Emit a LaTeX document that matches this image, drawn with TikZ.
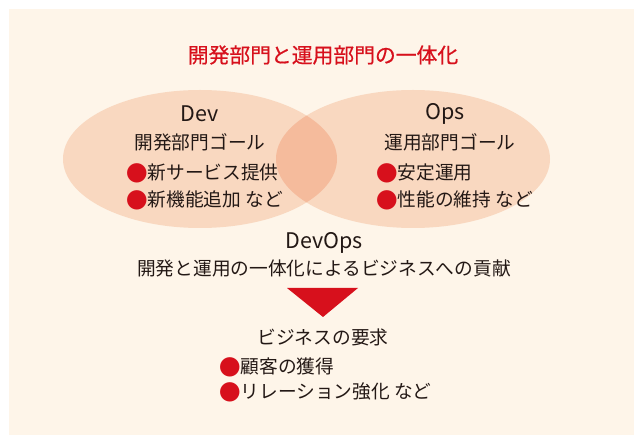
\documentclass[tikz,border=0pt]{standalone}
\usepackage{fontspec}
\setmainfont{Noto Sans CJK JP}
\newfontfamily\ttlfont{Noto Sans CJK JP}[FakeBold=0.6]
\definecolor{bgc}{HTML}{FEF5E9}
\definecolor{ellc}{HTML}{F9D8C0}
\definecolor{ovc}{HTML}{F5BB9C}
\definecolor{redc}{HTML}{D7101C}
\definecolor{txt}{HTML}{231815}
\tikzset{
  lbl/.style={inner sep=0pt, text=txt, font=\fontsize{18.7}{20}\selectfont},
  lat/.style={inner sep=0pt, text=txt, font=\fontsize{21.5}{23}\selectfont},
  ttl/.style={inner sep=0pt, text=redc, font=\fontsize{20.8}{22}\ttlfont},
  item/.style={lbl, anchor=west},
}
\newcommand{\bul}{\textcolor{redc}{\raisebox{-0.08em}{\scalebox{1.15}{●}}}}
\begin{document}
\begin{tikzpicture}[x=1pt,y=-1pt]
\useasboundingbox (0,0) rectangle (634,435);
\fill[bgc] (9,9) rectangle (634,435);
% ellipses
\fill[ellc] (200,159) ellipse [x radius=137, y radius=69];
\fill[ellc] (413,159) ellipse [x radius=137, y radius=69];
\begin{scope}
  \clip (200,159) ellipse [x radius=137, y radius=69];
  \fill[ovc] (413,159) ellipse [x radius=137, y radius=69];
\end{scope}
% title
\node[ttl] (title) at (323,55) {開発部門と運用部門の一体化};
% Dev
\node[lat] (dev) at (200,114) {Dev};
\node[lbl] (devg) at (200,142) {開発部門ゴール};
\node[item] (d1) at (126,173) {\bul 新サービス提供};
\node[item] (d2) at (126,200) {\bul 新機能追加 など};
% Ops
\node[lat] (ops) at (445,114) {Ops};
\node[lbl] (opsg) at (450,142) {運用部門ゴール};
\node[item] (o1) at (376,173) {\bul 安定運用};
\node[item] (o2) at (376,200) {\bul 性能の維持 など};
% DevOps
\node[lat] (devops) at (324,243) {DevOps};
\node[lbl] (devops2) at (324,268) {開発と運用の一体化によるビジネスへの貢献};
% arrow triangle
\coordinate (tl) at (287,288);
\coordinate (tr) at (358,288);
\coordinate (tb) at (323,317);
\fill[redc] (tl) -- (tr) -- (tb) -- cycle;
% business
\node[lbl] (biz) at (323,337) {ビジネスの要求};
\node[item] (b1) at (219,367) {\bul 顧客の獲得};
\node[item] (b2) at (219,392) {\bul リレーション強化 など};
\end{tikzpicture}
\end{document}
